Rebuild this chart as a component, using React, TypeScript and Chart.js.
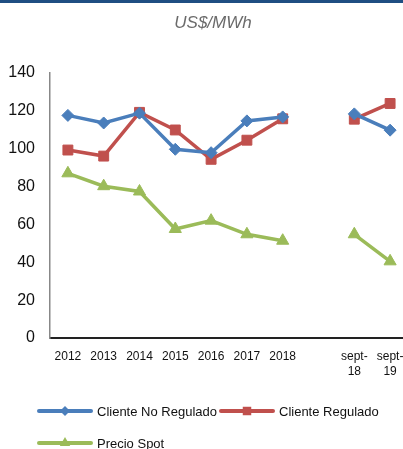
import React, { useEffect, useRef } from "react";
import { Chart, registerables } from "chart.js";
Chart.register(...registerables);

const categories: (string | string[])[] = ["2012", "2013", "2014", "2015", "2016", "2017", "2018", "", ["sept-", "18"], ["sept-", "19"]];
const seriesNames = ["Cliente No Regulado", "Cliente Regulado", "Precio Spot"];
const clienteNoRegulado = [117.6, 113.6, 118.8, 99.7, 97.9, 114.7, 116.8, null, 118.4, 109.8];
const clienteRegulado = [99.3, 96.1, 119.2, 109.9, 94.4, 104.5, 115.8, null, 115.6, 123.9];
const precioSpot = [87.0, 80.2, 77.4, 57.6, 62.0, 54.8, 51.4, null, 54.8, 40.5];
const unitTitle = "US$/MWh";

const FONT = "'Liberation Sans', Arial, sans-serif";
const BLUE = "#4a7ebb";
const RED = "#c0504d";
const GREEN = "#9bbb59";

const styles = [
  { color: BLUE, point: "rectRot", radius: 6 },
  { color: RED, point: "rect", radius: 7 },
  { color: GREEN, point: "triangle", radius: 7 },
];

function drawMarker(ctx: CanvasRenderingContext2D, style: string, x: number, y: number, r: number) {
  ctx.beginPath();
  if (style === "rectRot") {
    ctx.moveTo(x - r, y); ctx.lineTo(x, y - r); ctx.lineTo(x + r, y); ctx.lineTo(x, y + r);
  } else if (style === "rect") {
    const s = r * Math.SQRT1_2;
    ctx.rect(x - s, y - s, 2 * s, 2 * s);
  } else {
    const a = (2 * Math.PI) / 3;
    ctx.moveTo(x, y - r);
    ctx.lineTo(x + Math.sin(a) * r, y - Math.cos(a) * r);
    ctx.lineTo(x + Math.sin(2 * a) * r, y - Math.cos(2 * a) * r);
  }
  ctx.closePath();
  ctx.fill();
}

const decorPlugin = {
  id: "decor",
  afterDraw(chart: any) {
    const ctx: CanvasRenderingContext2D = chart.ctx;
    ctx.save();
    ctx.fillStyle = "#1f4e82";
    ctx.fillRect(0, 0, chart.width, 3);
    ctx.font = `italic 17px ${FONT}`;
    ctx.fillStyle = "#6b6b6b";
    ctx.textAlign = "center";
    ctx.textBaseline = "middle";
    ctx.fillText(unitTitle, 213, 23);

    const pos = [
      { x: 39, y: 411 },
      { x: 221, y: 411 },
      { x: 39, y: 443 },
    ];
    ctx.font = `13px ${FONT}`;
    ctx.textAlign = "left";
    pos.forEach((p, i) => {
      const st = styles[i];
      ctx.strokeStyle = st.color;
      ctx.fillStyle = st.color;
      ctx.lineWidth = 4;
      ctx.lineCap = "round";
      ctx.beginPath();
      ctx.moveTo(p.x, p.y);
      ctx.lineTo(p.x + 52, p.y);
      ctx.stroke();
      drawMarker(ctx, st.point, p.x + 26, p.y, st.radius - 1);
      ctx.fillStyle = "#111";
      ctx.fillText(seriesNames[i], p.x + 58, p.y + 1);
    });
    ctx.restore();
  },
};

export default function App() {
  const ref = useRef<HTMLCanvasElement | null>(null);
  useEffect(() => {
    if (!ref.current) return;
    const mk = (label: string, data: (number | null)[], i: number) => ({
      label,
      data,
      borderColor: styles[i].color,
      backgroundColor: styles[i].color,
      pointBackgroundColor: styles[i].color,
      pointBorderColor: styles[i].color,
      pointStyle: styles[i].point,
      pointRadius: styles[i].radius,
      pointBorderWidth: 1,
      borderWidth: 3.5,
      tension: 0,
      spanGaps: false,
    });
    const chart = new Chart(ref.current, {
      type: "line",
      data: {
        labels: categories,
        datasets: [
          mk(seriesNames[0], clienteNoRegulado, 0),
          mk(seriesNames[1], clienteRegulado, 1),
          mk(seriesNames[2], precioSpot, 2),
        ],
      },
      options: {
        animation: false,
        responsive: false,
        layout: { padding: { top: 73, left: 0, right: 0, bottom: 0 } },
        plugins: {
          legend: { display: false },
          title: { display: false },
          tooltip: { enabled: false },
        },
        scales: {
          x: {
            offset: true,
            grid: { display: false },
            border: { display: true, color: "#222", width: 2 },
            ticks: {
              font: { family: FONT, size: 12, lineHeight: 1.25 },
              color: "#111",
              padding: 3,
              maxRotation: 0,
              autoSkip: false,
            },
            afterFit: (s: any) => { s.height = 111; s.paddingLeft = 0; s.paddingRight = 0; },
          },
          y: {
            min: 0,
            max: 140,
            ticks: { stepSize: 20, font: { family: FONT, size: 16 }, color: "#111", padding: 7 },
            grid: { display: false },
            border: { display: true, color: "#888", width: 1.5 },
            afterFit: (s: any) => { s.width = 50; },
          },
        },
      } as any,
      plugins: [decorPlugin],
    });
    return () => chart.destroy();
  }, []);
  return (
    <div style={{ position: "absolute", left: 0, top: 0, width: 403, height: 449, overflow: "hidden", background: "#fff" }}>
      <canvas ref={ref} width={416} height={449} style={{ width: 416, height: 449, display: "block" }} />
    </div>
  );
}
